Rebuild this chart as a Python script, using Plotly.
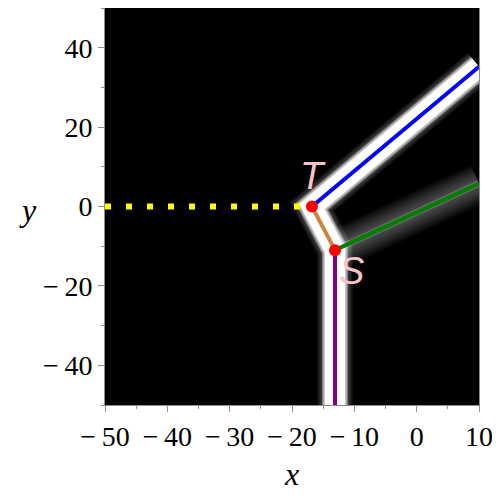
"""Tangent-line diagram over a glowing density band (black field)."""

import plotly.graph_objects as go

# --- data ---
T_PT = (-16.8, 0.0)
S_PT = (-13.1, -11.0)

yellow_x = [-50, -16.8]
yellow_y = [0, 0]
blue_x = [-16.8, 10]
blue_y = [0, 35.2]
orange_x = [-16.8, -13.1]
orange_y = [0, -11]
green_x = [-13.1, 10]
green_y = [-11, 5.8]
purple_x = [-13.1, -13.1]
purple_y = [-11, -50]

# bright ribbon follows blue -> T -> S -> purple
glow_x = [10, -16.8, -13.1, -13.1]
glow_y = [35.2, 0, -11, -50]

x_ticks = [-50, -40, -30, -20, -10, 0, 10]
y_ticks = [-40, -20, 0, 20, 40]

# --- style ---
BG = "#000000"
AXIS = "#8c8c8c"
PINK = "#f7c4c8"
SERIF = "Liberation Serif, Times New Roman, serif"
SANS = "Liberation Sans, Arial, sans-serif"


def label(v):
    return f"\u2212\u2009{abs(v)}" if v < 0 else str(v)


def glow(xs, ys, width, alpha):
    return go.Scatter(x=xs, y=ys, mode="lines", hoverinfo="skip",
                      line=dict(color=f"rgba(255,255,255,{alpha})", width=width))


fig = go.Figure()

# faint outer halo, then a quick fade into a solid white core
for w in range(36, 26, -2):
    fig.add_trace(glow(glow_x, glow_y, w, 0.05))
for w in (26, 24, 22):
    fig.add_trace(glow(glow_x, glow_y, w, 0.35))
fig.add_trace(glow(glow_x, glow_y, 20, 1.0))
# diffuse halo around the green branch
for w in range(40, 8, -4):
    fig.add_trace(glow(green_x, green_y, w, 0.04))
fig.add_trace(glow(green_x, green_y, 7, 0.2))

fig.add_trace(go.Scatter(x=yellow_x, y=yellow_y, mode="lines",
                         line=dict(color="#ffff00", width=6, dash="6px,15px")))
fig.add_trace(go.Scatter(x=blue_x, y=blue_y, mode="lines",
                         line=dict(color="#0000ff", width=4)))
fig.add_trace(go.Scatter(x=orange_x, y=orange_y, mode="lines",
                         line=dict(color="#cd853f", width=4)))
fig.add_trace(go.Scatter(x=green_x, y=green_y, mode="lines",
                         line=dict(color="#008000", width=4)))
fig.add_trace(go.Scatter(x=purple_x, y=purple_y, mode="lines",
                         line=dict(color="#800080", width=4)))
fig.add_trace(go.Scatter(
    x=[T_PT[0], S_PT[0]], y=[T_PT[1], S_PT[1]], mode="markers",
    marker=dict(color="#ff0000", size=12),
))

fig.add_annotation(x=-16.6, y=7.7, text="<i>T</i>", showarrow=False,
                   font=dict(family=SANS, size=38, color=PINK))
fig.add_annotation(x=-10.4, y=-16.3, text="<i>S</i>", showarrow=False,
                   font=dict(family=SANS, size=38, color=PINK))
# y title sits horizontally left of the axis
fig.add_annotation(x=-0.235, y=0.49, xref="paper", yref="paper",
                   text="<i>y</i>", showarrow=False,
                   font=dict(family=SERIF, size=32, color="#000000"))

axis_common = dict(
    showgrid=False, zeroline=False, showline=True, linecolor=AXIS,
    linewidth=1, mirror=True, ticks="outside", ticklen=6, tickcolor=AXIS,
    automargin=False,
    tickfont=dict(family=SERIF, size=28, color="#000000"),
)
# page body adds an 8px offset, so the figure is 492px and margins shrink
fig.update_layout(
    width=492, height=492,
    margin=dict(l=97, r=21, t=0, b=95),
    paper_bgcolor="#ffffff", plot_bgcolor=BG,
    showlegend=False,
    xaxis=dict(range=[-50, 10], tickvals=x_ticks,
               ticktext=[label(v) for v in x_ticks],
               minor=dict(dtick=5, ticks="outside", ticklen=3, tickcolor=AXIS),
               title=dict(text="<i>x</i>", standoff=12,
                          font=dict(family=SERIF, size=32, color="#000000")),
               **axis_common),
    yaxis=dict(range=[-50, 50], tickvals=y_ticks,
               ticktext=[label(v) for v in y_ticks],
               minor=dict(dtick=10, ticks="outside", ticklen=3, tickcolor=AXIS),
               **axis_common),
)

fig.write_html("out.html")
